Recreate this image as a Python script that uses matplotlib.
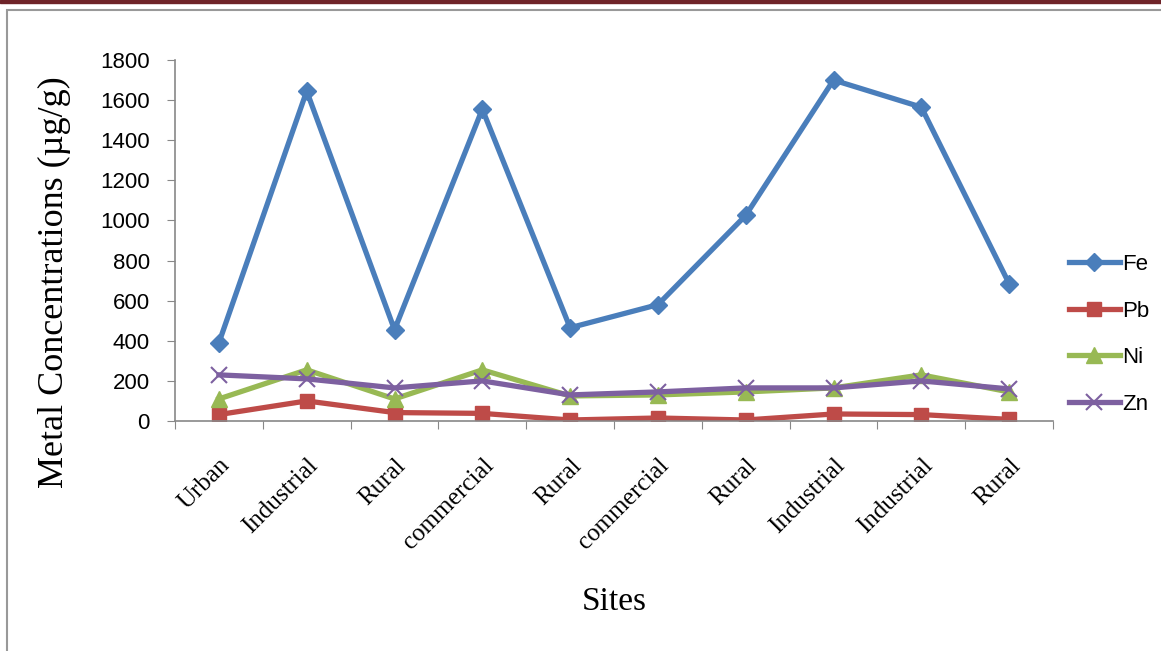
import numpy as np
from matplotlib import pyplot as plt
from matplotlib.patches import Rectangle

sites = ["Urban", "Industrial", "Rural", "commercial", "Rural",
         "commercial", "Rural", "Industrial", "Industrial", "Rural"]
fe = [390, 1645, 455, 1555, 465, 580, 1025, 1700, 1565, 685]
pb = [32, 100, 42, 38, 5, 15, 5, 35, 32, 8]
ni = [110, 255, 110, 255, 125, 130, 145, 165, 230, 145]
zn = [230, 210, 165, 200, 130, 145, 165, 165, 200, 160]

series = [("Fe", fe, "#4A7EBB", "D", 9),
          ("Pb", pb, "#BE4B48", "s", 10),
          ("Ni", ni, "#98B954", "^", 11),
          ("Zn", zn, "#7D60A0", "x", 12)]

fig = plt.figure(figsize=(11.61, 6.51), dpi=100)
# page decoration: dark bar on top and grey frame
fig.patches.append(Rectangle((0, 1 - 3 / 651), 1, 3 / 651, transform=fig.transFigure,
                             color="#6E2328", zorder=0))
fig.patches.append(Rectangle((7 / 1161, -0.05), 1.1, 1 - 10 / 651 + 0.05,
                             transform=fig.transFigure, fill=False,
                             edgecolor="#999999", linewidth=1.5, zorder=0))

ax = fig.add_axes([175 / 1161, 1 - 421 / 651, 878 / 1161, 361 / 651])
x = np.arange(len(sites))
for name, vals, col, mk, ms in series:
    if mk == "x":
        ax.plot(x, vals, color=col, lw=3.8, marker=mk, ms=ms, mew=1.5, label=name)
    else:
        ax.plot(x, vals, color=col, lw=3.8, marker=mk, ms=ms, label=name)

ax.set_xlim(-0.5, len(sites) - 0.5)
ax.set_ylim(0, 1800)
ax.set_yticks(range(0, 1801, 200))
ax.set_xticks(np.arange(-0.5, len(sites), 1))
ax.set_xticklabels([])
ax.set_xticks(x, minor=True)
ax.set_xticklabels(sites, minor=True, rotation=45, ha="right", va="top",
                   rotation_mode="anchor", family="Liberation Serif", fontsize=18)
ax.tick_params(axis="x", which="minor", length=0, pad=24)
ax.tick_params(axis="x", which="major", length=6, color="#888888", direction="out")
ax.tick_params(axis="y", length=6, color="#888888", labelsize=16, pad=12)
for lab in ax.get_yticklabels():
    lab.set_family("Liberation Sans")
for s in ["top", "right"]:
    ax.spines[s].set_visible(False)
for s in ["left", "bottom"]:
    ax.spines[s].set_color("#888888")
    ax.spines[s].set_linewidth(1.2)

ax.set_ylabel("Metal Concentrations (µg/g)", family="Liberation Serif", fontsize=26)
ax.yaxis.set_label_coords(-0.118, 0.385)
ax.set_xlabel("Sites", family="Liberation Serif", fontsize=24, labelpad=24)

ax.legend(loc="center left", bbox_to_anchor=(1.0, 0.24), frameon=False,
          prop={"family": "Liberation Sans", "size": 16}, handlelength=2.3,
          labelspacing=1.15, handletextpad=0.1, borderaxespad=0.3)

plt.savefig("out.png", dpi=100)
